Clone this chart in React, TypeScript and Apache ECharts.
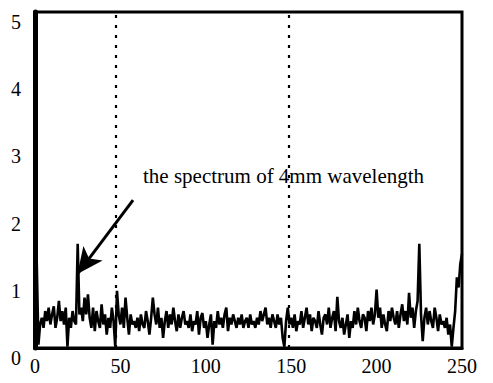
import React, { useEffect, useRef } from "react";
import * as echarts from "echarts";

const xTicks = [0, 50, 100, 150, 200, 250];
const yTicks = [0, 1, 2, 3, 4, 5];
const spectrum: number[] = [
  2.8, 1.3, 0.05, 0.35, 0.45, 0.3, 0.55, 0.4, 0.6, 0.35,
  0.5, 0.62, 0.3, 0.45, 0.7, 0.4, 0.55, 0.35, 0.6, 0.02,
  0.45, 0.3, 0.55, 0.4, 0.35, 1.55, 0.5, 0.6, 0.4, 0.75,
  0.5, 0.8, 0.45, 0.3, 0.6, 0.25, 0.55, 0.4, 0.3, 0.65,
  0.35, 0.5, 0.2, 0.45, 0.3, 0.6, 0.4, 0.02, 0.85, 0.5,
  0.35, 0.6, 0.3, 0.75, 0.45, 0.2, 0.5, 0.35, 0.4, 0.3,
  0.45, 0.25, 0.5, 0.35, 0.3, 0.55, 0.4, 0.2, 0.45, 0.75,
  0.5, 0.35, 0.6, 0.3, 0.45, 0.15, 0.4, 0.55, 0.3, 0.5,
  0.35, 0.6, 0.4, 0.25, 0.5, 0.3, 0.45, 0.55, 0.35, 0.4,
  0.3, 0.5, 0.25, 0.4, 0.35, 0.55, 0.2, 0.45, 0.52, 0.3,
  0.4, 0.15, 0.35, 0.5, 0.05, 0.4, 0.3, 0.55, 0.35, 0.45,
  0.3, 0.5, 0.6, 0.25, 0.45, 0.35, 0.5, 0.4, 0.3, 0.45,
  0.35, 0.5, 0.3, 0.4, 0.45, 0.3, 0.5, 0.35, 0.4, 0.3,
  0.45, 0.35, 0.55, 0.4, 0.5, 0.6, 0.35, 0.45, 0.3, 0.5,
  0.4, 0.3, 0.5, 0.35, 0.45, 0.15, 0.02, 0.4, 0.6, 0.35,
  0.45, 0.3, 0.5, 0.25, 0.4, 0.35, 0.55, 0.3, 0.45, 0.6,
  0.35, 0.5, 0.25, 0.45, 0.4, 0.3, 0.55, 0.35, 0.2, 0.45,
  0.5, 0.35, 0.6, 0.3, 0.45, 0.55, 0.25, 0.76, 0.4, 0.3,
  0.45, 0.2, 0.35, 0.5, 0.15, 0.4, 0.3, 0.55, 0.35, 0.6,
  0.4, 0.3, 0.5, 0.45, 0.25, 0.55, 0.4, 0.6, 0.35, 0.5,
  0.87, 0.45, 0.6, 0.3, 0.5, 0.35, 0.25, 0.55, 0.4, 0.6,
  0.45, 0.35, 0.55, 0.3, 0.5, 0.65, 0.4, 0.55, 0.35, 0.82,
  0.45, 0.6, 0.3, 0.55, 0.7, 1.55, 0.5, 0.1, 0.45, 0.6,
  0.35, 0.55, 0.4, 0.3, 0.6, 0.45, 0.25, 0.5, 0.35, 0.4,
  0.3, 0.45, 0.2, 0.35, 0.02, 0.3, 0.55, 1.05, 0.9, 1.25,
  1.4,
];
const dividers = [47.5, 148.5];
const annotationText = "the spectrum of 4mm wavelength";
const arrowFrom = [57.4, 2.2];
const arrowTo = [24.8, 1.1];

const FONT = "'Liberation Serif', 'DejaVu Serif', serif";

export default function App() {
  const ref = useRef<HTMLDivElement>(null);
  useEffect(() => {
    if (!ref.current) return;
    const chart = echarts.init(ref.current, undefined, { renderer: "svg" });
    chart.setOption({
      animation: false,
      backgroundColor: "#ffffff",
      grid: {
        left: 35,
        right: 31,
        top: 12,
        bottom: 35,
        show: true,
        borderColor: "#000",
        borderWidth: 3,
        backgroundColor: "transparent",
      },
      xAxis: {
        type: "value",
        min: xTicks[0],
        max: xTicks[xTicks.length - 1],
        interval: 50,
        axisLine: { show: true, onZero: false, lineStyle: { color: "#000", width: 3 } },
        axisTick: { show: false },
        splitLine: { show: false },
        axisLabel: { color: "#000", fontFamily: FONT, fontSize: 20, margin: 8 },
      },
      yAxis: {
        type: "value",
        min: yTicks[0],
        max: yTicks[yTicks.length - 1],
        interval: 1,
        axisLine: { show: true, lineStyle: { color: "#000", width: 5 } },
        axisTick: { show: false },
        splitLine: { show: false },
        axisLabel: {
          color: "#000",
          fontFamily: FONT,
          fontSize: 20,
          margin: 14,
          verticalAlign: "top",
        },
      },
      series: [
        {
          type: "line",
          data: spectrum.map((v, i) => [i, v]),
          showSymbol: false,
          symbol: "none",
          lineStyle: { color: "#000", width: 2.6 },
          z: 3,
          markLine: {
            silent: true,
            symbol: ["none", "none"],
            label: { show: false },
            lineStyle: { color: "#000", width: 2.2, type: [3, 7] },
            data: dividers.map((x) => ({ xAxis: x })),
          },
        },
        {
          type: "line",
          data: [],
          markLine: {
            silent: true,
            symbol: ["none", "arrow"],
            symbolSize: [18, 26],
            label: { show: false },
            lineStyle: { color: "#000", width: 3, type: "solid" },
            data: [[{ coord: arrowFrom }, { coord: arrowTo }]],
          },
        },
      ],
      graphic: [
        {
          type: "text",
          left: 143,
          top: 165,
          style: {
            text: annotationText,
            fill: "#000",
            font: `21px ${FONT}`,
          },
          z: 10,
        },
      ],
    });
    return () => chart.dispose();
  }, []);
  return <div ref={ref} style={{ width: 493, height: 383, margin: -8 }} />;
}
